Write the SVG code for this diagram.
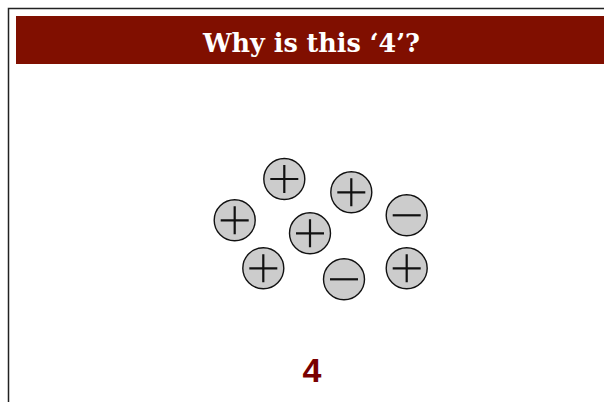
<svg xmlns="http://www.w3.org/2000/svg" width="604" height="402" viewBox="0 0 604 402">
<style>
.ion circle{fill:#cccccc;stroke:#111;stroke-width:1.4}
.ion path{stroke:#111;stroke-width:2.2;fill:none}
.title{font-family:"DejaVu Serif","Liberation Serif",serif;font-weight:bold;font-size:26px;fill:#fff}
.num{font-family:"Liberation Sans",Arial,sans-serif;font-weight:bold;font-size:34px;fill:#7a0000}
</style>
<rect width="604" height="402" fill="#fff"/>
<path d="M8.5 402 V8.5 H604" fill="none" stroke="#222" stroke-width="1.5"/>
<g id="title">
<rect x="16" y="16" width="588" height="48" fill="#800f00"/>
<text class="title" x="311.5" y="51.5" text-anchor="middle" textLength="217" lengthAdjust="spacingAndGlyphs">Why is this ‘4’?</text>
</g>
<g id="p1" class="ion"><circle cx="284.3" cy="179" r="20.5"/><path d="M270.3 179H298.3M284.3 165V193"/></g>
<g id="p2" class="ion"><circle cx="351.3" cy="192.3" r="20.5"/><path d="M337.3 192.3H365.3M351.3 178.3V206.3"/></g>
<g id="p3" class="ion"><circle cx="234.7" cy="220.3" r="20.5"/><path d="M220.7 220.3H248.7M234.7 206.3V234.3"/></g>
<g id="p4" class="ion"><circle cx="310" cy="233.3" r="20.5"/><path d="M296 233.3H324M310 219.3V247.3"/></g>
<g id="m1" class="ion"><circle cx="406.7" cy="215.3" r="20.5"/><path d="M392.7 215.3H420.7"/></g>
<g id="p5" class="ion"><circle cx="263.3" cy="268.3" r="20.5"/><path d="M249.3 268.3H277.3M263.3 254.3V282.3"/></g>
<g id="m2" class="ion"><circle cx="344" cy="279.3" r="20.5"/><path d="M330 279.3H358"/></g>
<g id="p6" class="ion"><circle cx="406.7" cy="268.3" r="20.5"/><path d="M392.7 268.3H420.7M406.7 254.3V282.3"/></g>
<g id="connectors"/>
<text id="answer" class="num" x="312" y="382" text-anchor="middle">4</text>
</svg>
